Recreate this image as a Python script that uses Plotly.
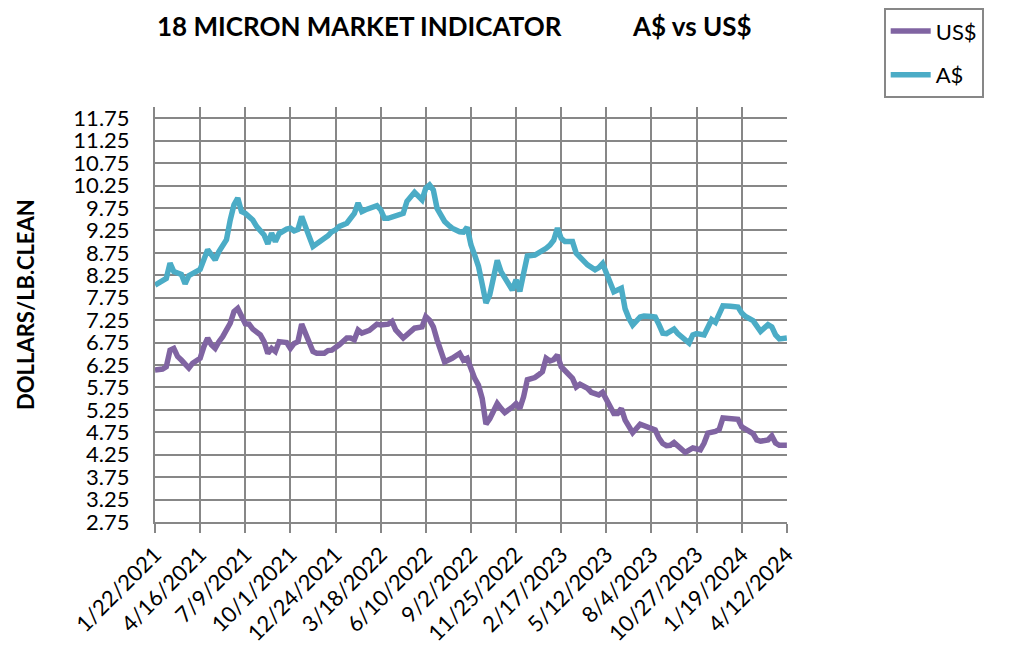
import pandas as pd
import plotly.graph_objects as go

# ---- data (week offset from 1/22/2021, value in $/lb clean) ----
START = "2021-01-22"

usd_weeks = [0, 2, 3, 4, 5, 6, 7, 9, 10, 12, 13, 14, 15, 16, 17, 18, 20, 21, 22, 23,
             24, 25, 26, 28, 29, 30, 31, 32, 33, 35, 36, 37, 38, 39, 40, 41, 42, 43, 45, 46,
             47, 49, 51, 52, 53, 54, 55, 57, 58, 59, 60, 62, 63, 64, 66, 67, 68, 69, 71, 72,
             73, 74, 75, 76, 77, 79, 81, 82, 83, 85, 86, 87, 88, 89, 91, 92, 93, 95, 96, 97,
             98, 99, 101, 102, 103, 104, 105, 106, 107, 108, 109, 110, 111, 112, 113, 115, 116, 117, 118, 119,
             120, 122, 123, 124, 125, 127, 129, 131, 133, 134, 135, 136, 137, 138, 139, 140, 141, 143, 145, 146,
             147, 149, 150, 151, 153, 155, 156, 157, 158, 159, 160, 161, 163, 164, 165, 166, 168]
usd_values = [6.14, 6.16, 6.21, 6.58, 6.62, 6.44, 6.36, 6.18, 6.29, 6.40, 6.66, 6.85, 6.70, 6.62, 6.77, 6.88, 7.18, 7.44, 7.51, 7.33,
              7.17, 7.16, 7.05, 6.92, 6.77, 6.51, 6.62, 6.55, 6.77, 6.75, 6.62, 6.73, 6.77, 7.16, 6.96, 6.73, 6.55, 6.51, 6.51, 6.57,
              6.58, 6.70, 6.85, 6.85, 6.81, 7.03, 6.96, 7.02, 7.09, 7.16, 7.14, 7.16, 7.22, 7.03, 6.85, 6.92, 6.98, 7.07, 7.10, 7.33,
              7.25, 7.10, 6.81, 6.51, 6.32, 6.40, 6.51, 6.36, 6.40, 5.95, 5.80, 5.50, 4.93, 5.05, 5.39, 5.28, 5.19, 5.31, 5.39, 5.28,
              5.54, 5.92, 5.97, 6.03, 6.10, 6.40, 6.34, 6.37, 6.47, 6.21, 6.12, 6.05, 5.95, 5.76, 5.82, 5.73, 5.64, 5.61, 5.58, 5.64,
              5.50, 5.17, 5.17, 5.28, 5.02, 4.74, 4.93, 4.87, 4.80, 4.62, 4.50, 4.45, 4.46, 4.52, 4.45, 4.40, 4.30, 4.40, 4.36, 4.51,
              4.73, 4.77, 4.81, 5.07, 5.07, 5.04, 4.87, 4.82, 4.79, 4.72, 4.58, 4.55, 4.58, 4.67, 4.51, 4.46, 4.46]

aud_weeks = [0, 2, 3, 4, 5, 7, 8, 9, 11, 12, 14, 15, 16, 17, 19, 20, 21, 22, 23, 24,
             26, 27, 29, 30, 31, 32, 33, 35, 36, 37, 38, 39, 40, 41, 42, 44, 46, 47, 48, 49,
             51, 52, 53, 54, 55, 56, 58, 59, 60, 61, 62, 64, 66, 67, 69, 71, 72, 73, 74, 75,
             77, 78, 79, 81, 82, 83, 84, 85, 86, 87, 88, 89, 91, 92, 94, 95, 96, 97, 98, 99,
             101, 102, 104, 105, 106, 107, 108, 109, 111, 112, 113, 115, 117, 118, 119, 120, 122, 124, 125, 126,
             127, 129, 130, 132, 133, 134, 135, 136, 138, 139, 140, 142, 143, 144, 146, 147, 148, 149, 150, 151,
             153, 155, 156, 157, 159, 160, 161, 163, 164, 165, 166, 168]
aud_values = [8.03, 8.11, 8.18, 8.52, 8.33, 8.27, 8.06, 8.24, 8.33, 8.38, 8.82, 8.68, 8.59, 8.78, 9.04, 9.48, 9.82, 9.97, 9.67, 9.63,
              9.48, 9.34, 9.15, 8.95, 9.19, 9.00, 9.18, 9.28, 9.30, 9.24, 9.27, 9.56, 9.30, 9.11, 8.89, 9.00, 9.13, 9.22, 9.26, 9.34,
              9.41, 9.52, 9.63, 9.86, 9.67, 9.71, 9.77, 9.80, 9.71, 9.52, 9.52, 9.57, 9.63, 9.90, 10.10, 9.93, 10.19, 10.26, 10.15, 9.74,
              9.45, 9.37, 9.30, 9.22, 9.21, 9.32, 8.93, 8.70, 8.45, 8.05, 7.63, 7.81, 8.58, 8.33, 8.03, 7.92, 8.15, 7.89, 8.29, 8.68,
              8.70, 8.74, 8.85, 8.92, 9.03, 9.30, 9.07, 9.00, 9.00, 8.74, 8.66, 8.48, 8.37, 8.42, 8.51, 8.28, 7.88, 7.96, 7.50, 7.29,
              7.14, 7.32, 7.34, 7.33, 7.32, 7.15, 6.96, 6.95, 7.05, 6.95, 6.88, 6.74, 6.92, 6.95, 6.92, 7.11, 7.26, 7.20, 7.41, 7.57,
              7.56, 7.54, 7.41, 7.33, 7.24, 7.11, 7.00, 7.15, 7.10, 6.92, 6.83, 6.85]

x_tick_labels = ["1/22/2021", "4/16/2021", "7/9/2021", "10/1/2021", "12/24/2021", "3/18/2022",
                 "6/10/2022", "9/2/2022", "11/25/2022", "2/17/2023", "5/12/2023", "8/4/2023",
                 "10/27/2023", "1/19/2024", "4/12/2024"]
y_tick_values = [2.75, 3.25, 3.75, 4.25, 4.75, 5.25, 5.75, 6.25, 6.75, 7.25, 7.75, 8.25,
                 8.75, 9.25, 9.75, 10.25, 10.75, 11.25, 11.75]

# ---- build ----
start = pd.Timestamp(START)
usd_dates = [start + pd.Timedelta(weeks=w) for w in usd_weeks]
aud_dates = [start + pd.Timedelta(weeks=w) for w in aud_weeks]
tick_dates = pd.to_datetime(x_tick_labels, format="%m/%d/%Y")

PURPLE = "#8064A2"
TEAL = "#4BACC6"
GRID = "#878787"
FONT = "Lato"

fig = go.Figure()
fig.add_trace(go.Scatter(x=usd_dates, y=usd_values, mode="lines", name="US$",
                         legendgroup="a", line=dict(color=PURPLE, width=5.5)))
fig.add_trace(go.Scatter(x=aud_dates, y=aud_values, mode="lines", name="A$",
                         legendgroup="b", line=dict(color=TEAL, width=5.5)))

fig.update_layout(
    width=1015, height=650,
    margin=dict(l=147, r=236, t=99, b=136, autoexpand=False),
    paper_bgcolor="white", plot_bgcolor="white",
    font=dict(family=FONT, size=22, color="black"),
    showlegend=True,
    legend=dict(x=1.153, xanchor="left", y=1.238, yanchor="top",
                bordercolor=GRID, borderwidth=2, bgcolor="white",
                font=dict(family=FONT, size=22, color="black"),
                tracegroupgap=12, traceorder="grouped", itemwidth=40,
                entrywidth=90, entrywidthmode="pixels"),
    annotations=[
        dict(text="<b>18 MICRON MARKET INDICATOR</b>", x=0.0, y=1.2386, xref="paper", yref="paper",
             xanchor="left", yanchor="top", showarrow=False,
             font=dict(family=FONT, size=26, color="black")),
        dict(text="<b>A$ vs US$</b>", x=0.752, y=1.2386, xref="paper", yref="paper",
             xanchor="left", yanchor="top", showarrow=False,
             font=dict(family=FONT, size=26, color="black")),
        dict(text="<b>DOLLARS/LB.CLEAN</b>", x=-0.206, y=0.525, xref="paper", yref="paper",
             xanchor="center", yanchor="middle", textangle=-90, showarrow=False,
             font=dict(family=FONT, size=22, color="black")),
    ],
)

fig.update_xaxes(
    type="date",
    range=[tick_dates[0], tick_dates[-1] + pd.Timedelta(hours=6)],
    tickmode="array", tickvals=tick_dates, ticktext=x_tick_labels,
    tickangle=-45, tickfont=dict(family=FONT, size=22, color="black"),
    showgrid=True, gridcolor=GRID, gridwidth=2,
    showline=True, linecolor=GRID, linewidth=2,
    ticks="outside", ticklen=9, tickwidth=2, tickcolor=GRID,
    zeroline=False,
)
fig.update_yaxes(
    range=[2.75, 12.0],
    tickmode="array", tickvals=y_tick_values, ticktext=[f"{v:.2f}" for v in y_tick_values],
    tickfont=dict(family=FONT, size=22, color="black"),
    showgrid=True, gridcolor=GRID, gridwidth=2,
    showline=True, linecolor=GRID, linewidth=2,
    ticks="", ticklabelstandoff=19,
    zeroline=False,
)

fig.write_html("out.html")
